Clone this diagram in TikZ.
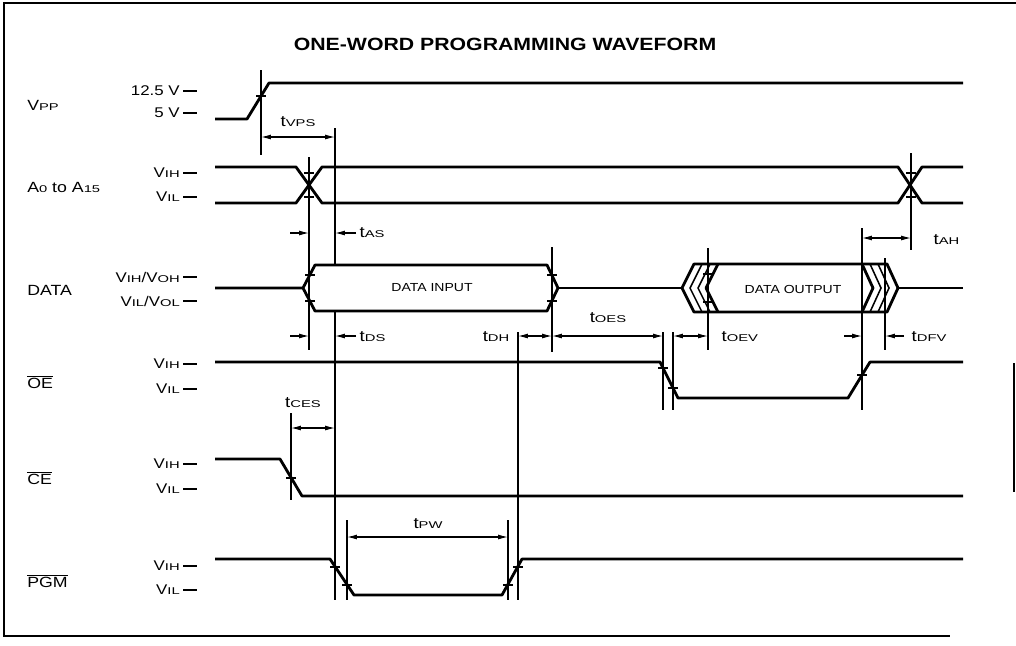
\documentclass[tikz,border=0pt]{standalone}
\usepackage{fontspec}
\setmainfont{Liberation Sans}[FakeStretch=1.2]
\newfontfamily\lofont{Liberation Sans}[FakeStretch=1.5]
\usetikzlibrary{arrows.meta}
\newcommand\lo[1]{{\lofont\fontsize{7}{8}\selectfont #1}}
\newcommand\ovl[1]{$\overline{\hbox{#1}}$}

\begin{document}
\begin{tikzpicture}[
    x=0.025cm, y=-0.025cm,
    wave/.style={line width=2pt, line join=round},
    hatch/.style={line width=1.1pt},
    guide/.style={line width=0.8pt},
    dim/.style={line width=0.8pt, {Latex[length=7pt,width=3.5pt]}-{Latex[length=7pt,width=3.5pt]}},
    pointer/.style={line width=0.8pt, -{Latex[length=7pt,width=3.5pt]}},
    sig/.style={anchor=west, inner sep=0pt, font=\fontsize{10.5}{12}\selectfont},
    lvl/.style={anchor=east, inner sep=0pt, font=\fontsize{10}{12}\selectfont},
    lvldash/.style={line width=1.3pt},
    tlabel/.style={inner sep=1pt, font=\fontsize{11}{13}\selectfont},
    boxtext/.style={font=\fontsize{8.3}{10}\selectfont}
]
    \useasboundingbox (0,0) rectangle (1016,645);

    % Frame and title
    \draw[line width=1.2pt] (1016,3) -- (4,3) -- (4,636) -- (950,636);
    \draw[guide] (1014,363) -- (1014,492);
    \node[font=\fontsize{12.6}{15}\selectfont\bfseries] (title) at (505,44) {ONE-WORD PROGRAMMING WAVEFORM};

    % Signal names
    \node[sig] (vpp)  at (27,105) {V\lo{PP}};
    \node[sig] (addr) at (27,187) {A\lo{0} to A\lo{15}};
    \node[sig] (data) at (27,290) {DATA};
    \node[sig] (oe)   at (27,382) {\ovl{OE}};
    \node[sig] (ce)   at (27,478) {\ovl{CE}};
    \node[sig] (pgm)  at (27,581) {\ovl{PGM}};

    % Levels
    \node[lvl] (vpp-hi)  at (180,91)  {12.5 V};
    \node[lvl] (vpp-lo)  at (180,113) {5 V};
    \node[lvl] (addr-hi) at (180,173) {V\lo{IH}};
    \node[lvl] (addr-lo) at (180,197) {V\lo{IL}};
    \node[lvl] (data-hi) at (180,277) {V\lo{IH}/V\lo{OH}};
    \node[lvl] (data-lo) at (180,301) {V\lo{IL}/V\lo{OL}};
    \node[lvl] (oe-hi)   at (180,364) {V\lo{IH}};
    \node[lvl] (oe-lo)   at (180,389) {V\lo{IL}};
    \node[lvl] (ce-hi)   at (180,464) {V\lo{IH}};
    \node[lvl] (ce-lo)   at (180,489) {V\lo{IL}};
    \node[lvl] (pgm-hi)  at (180,566) {V\lo{IH}};
    \node[lvl] (pgm-lo)  at (180,590) {V\lo{IL}};
    \foreach \y in {91,113,173,197,277,301,364,389,464,489,566,590}
        \draw[lvldash] (183,\y) -- (197,\y);

    % Waveforms
    \draw[wave] (215,119) -- (247,119) -- (269,83) -- (963,83);
    \draw[wave] (215,167) -- (296,167) -- (322,203) -- (898,203) -- (922,167) -- (963,167);
    \draw[wave] (215,203) -- (296,203) -- (322,167) -- (898,167) -- (922,203) -- (963,203);
    \draw[wave] (215,288) -- (303,288) -- (315,265) -- (547,265) -- (558,288) -- (547,311) -- (315,311) -- (303,288);
    \draw[wave] (558,288) -- (682,288);
    \draw[wave] (682,288) -- (694,264) -- (887,264) -- (898,288) -- (887,312) -- (694,312) -- cycle;
    \draw[wave] (898,288) -- (963,288);
    \draw[wave] (215,362) -- (660,362) -- (678,398) -- (848,398) -- (870,362) -- (963,362);
    \draw[wave] (215,459) -- (280,459) -- (302,496) -- (963,496);
    \draw[wave] (215,559) -- (330,559) -- (354,595) -- (502,595) -- (522,559) -- (963,559);

    % Output transition hatching
    \foreach \dx in {8,16}
        \draw[hatch] (694+\dx,264) -- (682+\dx,288) -- (694+\dx,312);
    \draw[wave] (718,264) -- (706,288) -- (718,312);
    \foreach \dx in {8,16}
        \draw[hatch] (862+\dx,264) -- (873+\dx,288) -- (862+\dx,312);
    \draw[wave] (862,264) -- (873,288) -- (862,312);

    % Box labels
    \node[boxtext] (din)  at (432,288) {DATA INPUT};
    \node[boxtext] (dout) at (793,289) {DATA OUTPUT};

    % Timing reference lines
    \foreach \x/\ya/\yb in {261/70/155, 309/157/350, 335/128/265, 335/311/600,
                            552/247/352, 518/332/600, 347/520/600, 508/520/600,
                            291/413/500, 663/332/410, 673/332/410, 708/248/350,
                            885/258/350, 862/228/410, 911/153/250}
        \draw[guide] (\x,\ya) -- (\x,\yb);

    % Threshold ticks
    \foreach \x/\y in {261/96, 309/173, 309/197, 911/173, 911/197,
                       310/275, 310/301, 552/275, 552/301, 708/274, 708/302,
                       663/368, 673/388, 862/375, 291/478,
                       335/567, 347/585, 508/585, 518/567}
        \draw[line width=1.1pt] (\x-5,\y) -- (\x+5,\y);

    % Timing parameters
    \draw[dim] (261,137) -- (335,137);
    \node[tlabel] (tvps) at (298,122) {t\lo{VPS}};
    \draw[pointer] (290,233) -- (309,233);
    \draw[pointer] (356,233) -- (335,233);
    \node[tlabel, anchor=west] (tas) at (358,233) {t\lo{AS}};
    \draw[dim] (862,238) -- (911,238);
    \node[tlabel, anchor=west] (tah) at (932,240) {t\lo{AH}};
    \draw[pointer] (290,336) -- (309,336);
    \draw[pointer] (356,336) -- (335,336);
    \node[tlabel, anchor=west] (tds) at (358,337) {t\lo{DS}};
    \draw[dim] (518,336) -- (552,336);
    \node[tlabel, anchor=east] (tdh) at (511,337) {t\lo{DH}};
    \draw[dim] (552,336) -- (663,336);
    \node[tlabel] (toes) at (608,318) {t\lo{OES}};
    \draw[dim] (673,336) -- (708,336);
    \node[tlabel, anchor=west] (toev) at (720,337) {t\lo{OEV}};
    \draw[pointer] (844,336) -- (862,336);
    \draw[pointer] (904,336) -- (885,336);
    \node[tlabel, anchor=west] (tdfv) at (910,337) {t\lo{DFV}};
    \draw[dim] (291,428) -- (335,428);
    \node[tlabel] (tces) at (303,403) {t\lo{CES}};
    \draw[dim] (347,537) -- (508,537);
    \node[tlabel] (tpw) at (428,524) {t\lo{PW}};

\end{tikzpicture}
\end{document}
